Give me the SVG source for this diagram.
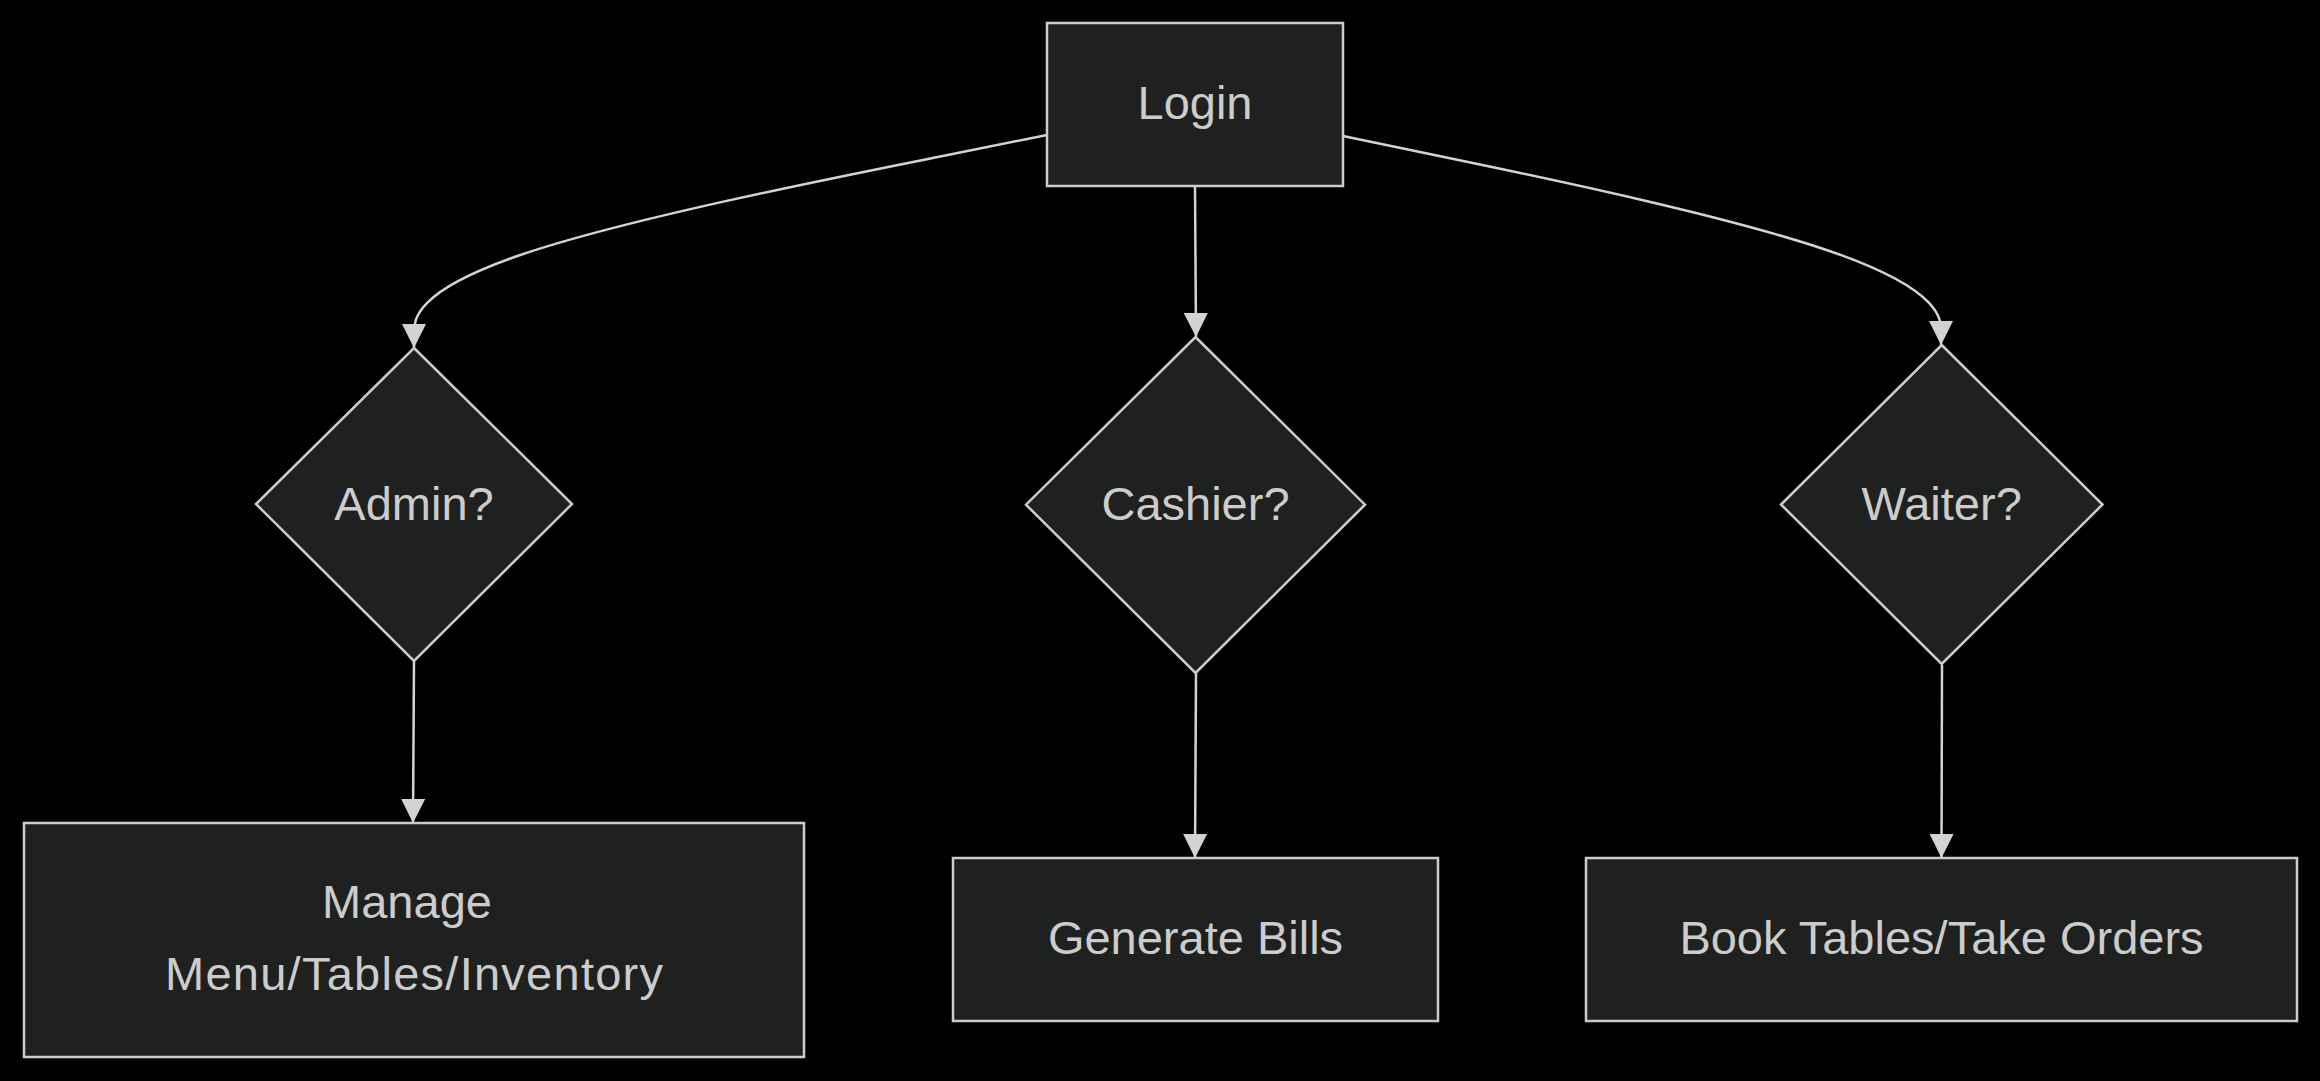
<svg xmlns="http://www.w3.org/2000/svg" width="2320" height="1081" viewBox="0 0 2320 1081">
<style>
.node rect, .node polygon { fill:#1f2020; stroke:#cccccc; stroke-width:2.5; }
.node text { fill:#cccccc; font-family:"Liberation Sans", Arial, sans-serif; font-size:47px; text-anchor:middle; }
.edge { fill:none; stroke:#d3d3d3; stroke-width:2.5; marker-end:url(#arrow); }
</style>
<defs>
<marker id="arrow" markerUnits="userSpaceOnUse" viewBox="0 0 24 24" refX="24" refY="12" markerWidth="24" markerHeight="24" orient="auto">
<path d="M0,0 L24,12 L0,24 z" fill="#d3d3d3"/>
</marker>
</defs>
<rect x="0" y="0" width="2320" height="1081" fill="#000000"/>
<g id="connectors">
<path class="edge" d="M1047,135 L941.5,156.2 C836,177.3 625,219 519.5,255.3 C414,291.7 414,319.5 414,333.8 L414,348"/>
<path class="edge" d="M1195,186 L1196,337"/>
<path class="edge" d="M1343,136 L1442.7,156.7 C1542.3,177.3 1741.7,218.7 1841.3,255.2 C1941,291.7 1941,319.3 1941,331.2 L1941,345"/>
<path class="edge" d="M414,661 L413,823"/>
<path class="edge" d="M1196,673 L1195,858"/>
<path class="edge" d="M1942,665 L1941.5,858"/>
</g>
<g id="login" class="node">
<rect x="1047" y="23" width="296" height="163"/>
<text x="1195" y="119">Login</text>
</g>
<g id="admin" class="node">
<polygon points="414,348 572,504 414,661 256,504"/>
<text x="414" y="520">Admin?</text>
</g>
<g id="cashier" class="node">
<polygon points="1195.5,337 1365,504.7 1195.5,673 1026,504.7"/>
<text x="1195.5" y="520">Cashier?</text>
</g>
<g id="waiter" class="node">
<polygon points="1941.7,345 2102.5,504.5 1941.7,664 1781,504.5"/>
<text x="1941.7" y="520">Waiter?</text>
</g>
<g id="manage" class="node">
<rect x="24" y="823" width="780" height="234"/>
<text x="407" y="918">Manage</text>
<text x="414" y="990" textLength="498" lengthAdjust="spacing">Menu/Tables/Inventory</text>
</g>
<g id="bills" class="node">
<rect x="953" y="858" width="485" height="163"/>
<text x="1195.5" y="954">Generate Bills</text>
</g>
<g id="orders" class="node">
<rect x="1586" y="858" width="711" height="163"/>
<text x="1941.5" y="954">Book Tables/Take Orders</text>
</g>
</svg>
